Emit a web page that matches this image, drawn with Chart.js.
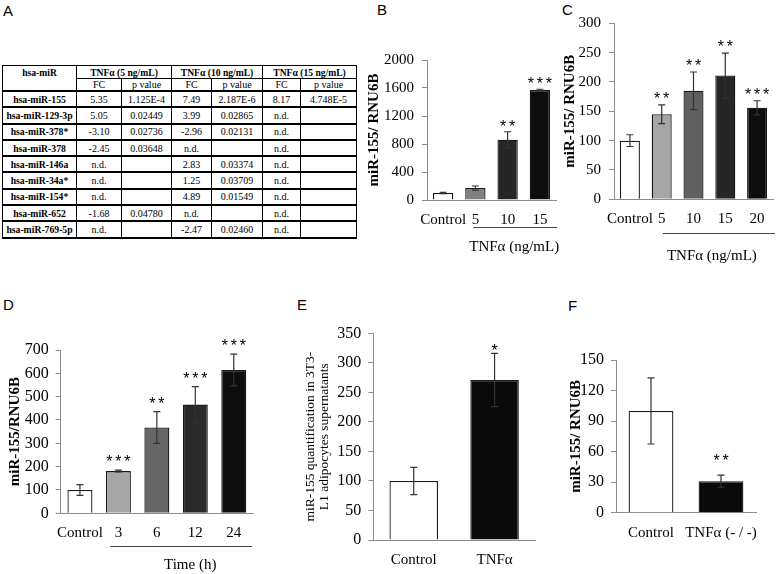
<!DOCTYPE html>
<html><head><meta charset="utf-8">
<script src="https://cdn.jsdelivr.net/npm/chart.js@4.4.1/dist/chart.umd.min.js"></script>
<style>
html,body{margin:0;padding:0;background:#fff}
body{width:777px;height:574px;position:relative;overflow:hidden;font-family:'Liberation Serif','Times New Roman',serif}
canvas{position:absolute}
.lbl{position:absolute;font:15px 'Liberation Sans',Arial,sans-serif;line-height:15px;color:#000}
#tbl{position:absolute;left:2px;top:65px;border-collapse:collapse;table-layout:fixed;font-family:'Liberation Serif','Times New Roman',serif;color:#000;width:354px}
#tbl td,#tbl th{padding:0;text-align:center;border:1px solid #000;white-space:nowrap;overflow:hidden;line-height:11px}
#tbl th{font-weight:bold;font-size:9.6px;height:12px}
#tbl tr.sub td{font-size:10px;height:11px}
#tbl tr.row td{font-size:10px;height:14.3px;border-top:2px solid #000;border-bottom:2px solid #000}
#tbl tr.row td.nm{font-weight:bold;font-size:9.7px}
</style></head>
<body>
<div class="lbl" style="left:3px;top:3px">A</div>
<div class="lbl" style="left:377px;top:2px">B</div>
<div class="lbl" style="left:562px;top:2px">C</div>
<div class="lbl" style="left:3px;top:297px">D</div>
<div class="lbl" style="left:297px;top:297px">E</div>
<div class="lbl" style="left:568px;top:298px">F</div>
<table id="tbl"></table>
<script>
// ---------- Panel A: table data ----------
const mirNames = ['hsa-miR-155','hsa-miR-129-3p','hsa-miR-378*','hsa-miR-378','hsa-miR-146a','hsa-miR-34a*','hsa-miR-154*','hsa-miR-652','hsa-miR-769-5p'];
const doseGroups = ['TNFα (5 ng/mL)','TNFα (10 ng/mL)','TNFα (15 ng/mL)'];
const fc5  = ['5.35','5.05','-3.10','-2.45','n.d.','n.d.','n.d.','-1.68','n.d.'];
const p5   = ['1.125E-4','0.02449','0.02736','0.03648','','','','0.04780',''];
const fc10 = ['7.49','3.99','-2.96','n.d.','2.83','1.25','4.89','n.d.','-2.47'];
const p10  = ['2.187E-6','0.02865','0.02131','','0.03374','0.03709','0.01549','','0.02460'];
const fc15 = ['8.17','n.d.','n.d.','n.d.','n.d.','n.d.','n.d.','n.d.','n.d.'];
const p15  = ['4.748E-5','','','','','','','',''];

// ---------- Panel B ----------
const bCats  = ['Control','5','10','15'];
const bVals  = [100, 170, 860, 1570];
const bErrs  = [10, 30, 115, 12];
const bStars = ['', '', '**', '***'];
// ---------- Panel C ----------
const cCats  = ['Control','5','10','15','20'];
const cVals  = [100, 145, 185, 211, 156];
const cErrs  = [10, 16, 32, 38, 12];
const cStars = ['', '**', '**', '**', '***'];
// ---------- Panel D ----------
const dCats  = ['Control','3','6','12','24'];
const dVals  = [100, 181, 368, 466, 614];
const dErrs  = [23, 4, 68, 77, 68];
const dStars = ['', '***', '**', '***', '***'];
// ---------- Panel E ----------
const eCats  = ['Control','TNFα'];
const eVals  = [100, 271];
const eErrs  = [23, 45];
const eStars = ['', '*'];
// ---------- Panel F ----------
const fCats  = ['Control','TNFα (- / -)'];
const fVals  = [100, 31];
const fErrs  = [32.5, 6];
const fStars = ['', '**'];

// ---------- build table ----------
(function(){
  const t = document.getElementById('tbl');
  const widths = [74,45,50,40,51,38,56];
  let h = '<colgroup>' + widths.map(w=>'<col style="width:'+w+'px">').join('') + '</colgroup>';
  h += '<tr><th style="border-bottom:none">hsa-miR</th>' + doseGroups.map(g=>'<th colspan="2">'+g+'</th>').join('') + '</tr>';
  h += '<tr class="sub"><td style="border-top:none"></td>' + doseGroups.map(()=>'<td>FC</td><td>p value</td>').join('') + '</tr>';
  mirNames.forEach((m,i)=>{
    h += '<tr class="row"><td class="nm">'+m+'</td><td>'+fc5[i]+'</td><td>'+p5[i]+'</td><td>'+fc10[i]+'</td><td>'+p10[i]+'</td><td>'+fc15[i]+'</td><td>'+p15[i]+'</td></tr>';
  });
  t.innerHTML = h;
})();

const SERIF = "'Liberation Serif','Times New Roman',serif";
const SANS = "'Liberation Sans',Arial,sans-serif";

const errPlugin = {
  id:'errBars',
  afterDatasetsDraw(chart){
    const ds = chart.data.datasets[0], meta = chart.getDatasetMeta(0), ys = chart.scales.y, ctx = chart.ctx;
    ctx.save(); ctx.strokeStyle = '#333'; ctx.lineWidth = 1.2;
    meta.data.forEach((el,i)=>{
      const e = ds.errors[i]; if(!e) return;
      const yt = ys.getPixelForValue(ds.data[i]+e), yb = ys.getPixelForValue(ds.data[i]-e);
      ctx.beginPath();
      ctx.moveTo(el.x, yt); ctx.lineTo(el.x, yb);
      ctx.moveTo(el.x-3.5, yt); ctx.lineTo(el.x+3.5, yt);
      ctx.moveTo(el.x-3.5, yb); ctx.lineTo(el.x+3.5, yb);
      ctx.stroke();
    });
    ctx.restore();
  }
};
const starPlugin = {
  id:'stars',
  afterDatasetsDraw(chart){
    const ds = chart.data.datasets[0], meta = chart.getDatasetMeta(0), ys = chart.scales.y, ctx = chart.ctx;
    const gap = ds.starGap;
    ctx.save(); ctx.fillStyle = '#000'; ctx.font = '16px ' + SANS; ctx.textAlign = 'center'; ctx.textBaseline = 'alphabetic';
    ds.stars.forEach((s,i)=>{
      if(!s) return;
      const el = meta.data[i];
      const y = ys.getPixelForValue(ds.data[i] + (ds.errors[i]||0)) - gap;
      const n = s.length;
      for(let k=0;k<n;k++) ctx.fillText(s[k], el.x + (k-(n-1)/2)*9, y + 9);
    });
    ctx.restore();
  }
};
const groupPlugin = {
  id:'groupLbl',
  afterDraw(chart){
    const g = chart.data.datasets[0].group; if(!g) return;
    const xs = chart.scales.x, ca = chart.chartArea, ctx = chart.ctx;
    const x0 = xs.getPixelForValue(1) + g.dx0, x1 = ca.right + g.dx1;
    const yl = Math.round(ca.bottom + g.lineDy) + 0.5;
    ctx.save(); ctx.strokeStyle = '#444'; ctx.lineWidth = 1;
    ctx.beginPath(); ctx.moveTo(x0, yl); ctx.lineTo(x1, yl); ctx.stroke();
    ctx.fillStyle = '#000'; ctx.font = '15px ' + SERIF; ctx.textAlign = 'center'; ctx.textBaseline = 'middle';
    ctx.fillText(g.text, (x0+x1)/2 + g.textDx, ca.bottom + g.textDy);
    ctx.restore();
  }
};

function panel(geo, cfg){
  const cv = document.createElement('canvas');
  cv.width = geo.w; cv.height = geo.h;
  cv.style.left = geo.x + 'px'; cv.style.top = geo.y + 'px';
  cv.style.width = geo.w + 'px'; cv.style.height = geo.h + 'px';
  document.body.appendChild(cv);
  const padL = geo.padL, xH = 30;
  const yW = geo.area.l - geo.x - padL;
  const padT = geo.area.t - geo.y;
  const padR = geo.x + geo.w - geo.area.r;
  const padB = geo.y + geo.h - geo.area.b - xH;
  const lh = geo.titleLH;
  const titlePad = geo.titleCx - geo.x - padL - lh/2;
  new Chart(cv, {
    type:'bar',
    data:{
      labels: cfg.cats,
      datasets:[{
        data: cfg.vals, errors: cfg.errs, stars: cfg.stars, starGap: geo.starGap, group: geo.group,
        backgroundColor: cfg.colors, borderColor:'#1a1a1a', borderWidth:1.3,
        barPercentage: geo.barPct, categoryPercentage: 1
      }]
    },
    options:{
      responsive:false, animation:false, devicePixelRatio:1,
      layout:{padding:{left:padL, top:padT, right:padR, bottom:padB}},
      plugins:{legend:{display:false}, tooltip:{enabled:false}, title:{display:false}},
      scales:{
        x:{
          grid:{display:false, drawTicks:false},
          border:{display:true, color:'#8c8c8c', width:1},
          ticks:{font:{family:SERIF, size:15}, color:'#000', padding:11, maxRotation:0, minRotation:0, autoSkip:false},
          afterFit:s=>{ s.height = xH; s.paddingLeft = 0; s.paddingRight = 0; }
        },
        y:{
          min:0, max:cfg.max,
          ticks:{stepSize:cfg.step, font:{family:SERIF, size:geo.yFont}, color:'#000', padding:geo.yPad,
                 callback:v=>String(v)},
          grid:{drawOnChartArea:false, drawTicks:true, tickLength:5, color:'#8c8c8c'},
          border:{display:true, color:'#8c8c8c', width:1},
          title:{display:true, text:cfg.title, color:'#000',
                 font:{family:SERIF, size:geo.titleSize, weight:geo.titleBold ? 'bold' : 'normal', lineHeight: lh + 'px'},
                 padding:{top:titlePad, bottom:0}},
          afterFit:s=>{ s.width = yW; s.paddingTop = 0; s.paddingBottom = 0; }
        }
      }
    },
    plugins:[errPlugin, starPlugin, groupPlugin]
  });
}

panel({x:355,y:40,w:210,h:230, area:{l:427,t:60,r:556,b:200}, padL:5, titleCx:374, titleLH:18, titleSize:15, titleBold:true,
       barPct:0.63, yFont:15, yPad:8, starGap:9,
       group:{text:'TNFα (ng/mL)', dx0:-2, dx1:1, lineDy:27, textDy:47, textDx:-1}},
      {cats:bCats, vals:bVals, errs:bErrs, stars:bStars, max:2000, step:400, title:'miR-155/ RNU6B',
       colors:['#ffffff','#808080','#262626','#0d0d0d']});

panel({x:545,y:0,w:232,h:270, area:{l:614,t:23.3,r:773,b:199.3}, padL:5, titleCx:570, titleLH:18, titleSize:15, titleBold:true,
       barPct:0.63, yFont:15, yPad:8, starGap:10,
       group:{text:'TNFα (ng/mL)', dx0:1, dx1:2, lineDy:34, textDy:57, textDx:-7}},
      {cats:cCats, vals:cVals, errs:cErrs, stars:cStars, max:300, step:50, title:'miR-155/ RNU6B',
       colors:['#ffffff','#a6a6a6','#606060','#262626','#0d0d0d']});

panel({x:0,y:330,w:270,h:244, area:{l:60.7,t:350,r:253,b:513.3}, padL:0, titleCx:15, titleLH:18, titleSize:15, titleBold:true,
       barPct:0.65, yFont:16, yPad:7, starGap:12,
       group:{text:'Time (h)', dx0:-8, dx1:-1, lineDy:33, textDy:52, textDx:9}},
      {cats:dCats, vals:dVals, errs:dErrs, stars:dStars, max:700, step:100, title:'miR-155/RNU6B',
       colors:['#ffffff','#a6a6a6','#666666','#2a2a2a','#0d0d0d']});

panel({x:280,y:320,w:260,h:254, area:{l:373.3,t:333.3,r:535,b:540}, padL:5, titleCx:310, titleLH:14, titleSize:13.5, titleBold:false,
       barPct:0.6, yFont:16, yPad:7, starGap:6, group:null},
      {cats:eCats, vals:eVals, errs:eErrs, stars:eStars, max:350, step:50,
       title:['miR-155 quantification in 3T3-','L1 adipocytes supernatants'],
       colors:['#ffffff','#0a0a0a']});

panel({x:545,y:330,w:232,h:244, area:{l:616,t:360,r:756,b:512.7}, padL:5, titleCx:576, titleLH:18, titleSize:15, titleBold:true,
       barPct:0.64, yFont:16, yPad:7, starGap:18, group:null},
      {cats:fCats, vals:fVals, errs:fErrs, stars:fStars, max:150, step:30, title:'miR-155/ RNU6B',
       colors:['#ffffff','#0a0a0a']});
</script>
</body></html>
